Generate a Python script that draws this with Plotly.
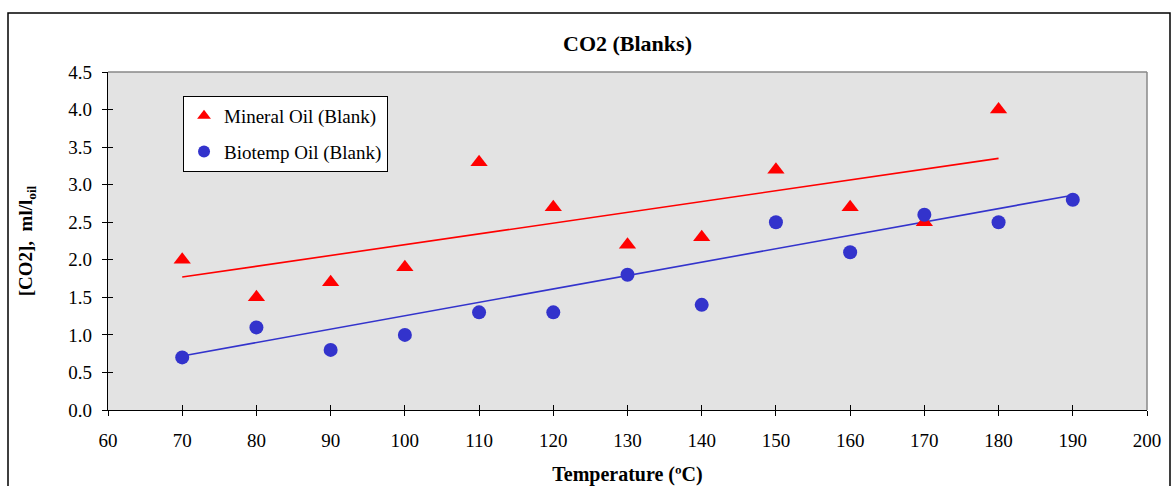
import plotly.graph_objects as go

temps_mineral = [70, 80, 90, 100, 110, 120, 130, 140, 150, 160, 170, 180]
co2_mineral = [2.0, 1.5, 1.7, 1.9, 3.3, 2.7, 2.2, 2.3, 3.2, 2.7, 2.5, 4.0]
temps_bio = [70, 80, 90, 100, 110, 120, 130, 140, 150, 160, 170, 180, 190]
co2_bio = [0.7, 1.1, 0.8, 1.0, 1.3, 1.3, 1.8, 1.4, 2.5, 2.1, 2.6, 2.5, 2.8]
trend_mineral_x = [70, 180]
trend_mineral_y = [1.77, 3.35]
trend_bio_x = [70, 190]
trend_bio_y = [0.72, 2.86]
x_ticks = list(range(60, 201, 10))
y_ticks = [0.0, 0.5, 1.0, 1.5, 2.0, 2.5, 3.0, 3.5, 4.0, 4.5]

RED = "#ff0000"
BLUE = "#3333cc"
FONT = "'Liberation Serif', 'Times New Roman', 'DejaVu Serif', serif"

fig = go.Figure()
fig.add_trace(go.Scatter(x=trend_mineral_x, y=trend_mineral_y, mode="lines",
                         line=dict(color=RED, width=1.6), showlegend=False, hoverinfo="skip"))
fig.add_trace(go.Scatter(x=trend_bio_x, y=trend_bio_y, mode="lines",
                         line=dict(color=BLUE, width=1.6), showlegend=False, hoverinfo="skip"))
fig.add_trace(go.Scatter(x=temps_mineral, y=co2_mineral, mode="markers", name="Mineral Oil (Blank)",
                         legendgroup="m",
                         marker=dict(symbol="triangle-up", size=15, color=RED)))
fig.add_trace(go.Scatter(x=temps_bio, y=co2_bio, mode="markers", name="Biotemp Oil (Blank)",
                         legendgroup="b",
                         marker=dict(symbol="circle", size=14, color=BLUE)))
# invisible trace to anchor the overlay axes (inner half of crossing ticks)
fig.add_trace(go.Scatter(x=[60], y=[0], xaxis="x2", yaxis="y2", mode="markers",
                         marker=dict(opacity=0), showlegend=False, hoverinfo="skip"))

axis_common = dict(showgrid=False, zeroline=False, linecolor="black", linewidth=1.3,
                   tickcolor="black", tickwidth=1.2, ticklen=5, automargin=False,
                   tickfont=dict(family=FONT, size=19, color="black"))

fig.update_layout(
    width=1171, height=486,
    margin=dict(l=108, r=24, t=72, b=76, autoexpand=False),
    paper_bgcolor="white", plot_bgcolor="#e3e3e3",
    font=dict(family=FONT, color="black"),
    title=dict(text="<b>CO2 (Blanks)</b>", x=0.5, xref="paper", xanchor="center",
               y=1 - 43 / 486, yanchor="middle",
               font=dict(family=FONT, size=22, color="black")),
    xaxis=dict(range=[60, 200], tickvals=x_ticks, ticktext=[str(v) for v in x_ticks],
               ticks="outside", showline=True, mirror=False, ticklabelstandoff=8,
               title=dict(text="<b>Temperature (ºC)</b>", standoff=26,
                          font=dict(family=FONT, size=20, color="black")),
               **axis_common),
    yaxis=dict(range=[0, 4.5], tickvals=y_ticks, ticktext=[f"{v:.1f}" for v in y_ticks],
               ticks="outside", showline=True, ticklabelstandoff=6,
               title=dict(text="<b>[CO2],  ml/l<sub>oil</sub></b>", standoff=30,
                          font=dict(family=FONT, size=19, color="black")),
               **axis_common),
    xaxis2=dict(range=[60, 200], overlaying="x", anchor="y2", tickvals=x_ticks, ticks="inside",
                showticklabels=False, showgrid=False, zeroline=False, showline=False,
                tickcolor="black", tickwidth=1.2, ticklen=5),
    yaxis2=dict(range=[0, 4.5], overlaying="y", anchor="x2", tickvals=y_ticks, ticks="inside",
                showticklabels=False, showgrid=False, zeroline=False, showline=False,
                tickcolor="black", tickwidth=1.2, ticklen=5),
    legend=dict(x=0.0722, y=0.929, xanchor="left", yanchor="top",
                bgcolor="white", bordercolor="black", borderwidth=1,
                font=dict(family=FONT, size=19, color="black"),
                itemsizing="constant", itemwidth=30, tracegroupgap=8),
    showlegend=True,
)

# gray frame on top/right of plot area
fig.add_shape(type="line", xref="paper", yref="paper", x0=0, x1=1, y0=1, y1=1,
              line=dict(color="#888888", width=1.5))
fig.add_shape(type="line", xref="paper", yref="paper", x0=1, x1=1, y0=0, y1=1,
              line=dict(color="#888888", width=1.5))
# outer chart border
fig.add_shape(type="rect", xref="paper", yref="paper",
              x0=(8 - 108) / 1039, x1=(1170 - 108) / 1039,
              y0=-0.4, y1=(410 - 13) / 338,
              line=dict(color="black", width=1.5), layer="below")

fig.write_html("out.html", config={"displayModeBar": False},
               post_script="document.body.style.margin='0';document.body.style.padding='0';")
